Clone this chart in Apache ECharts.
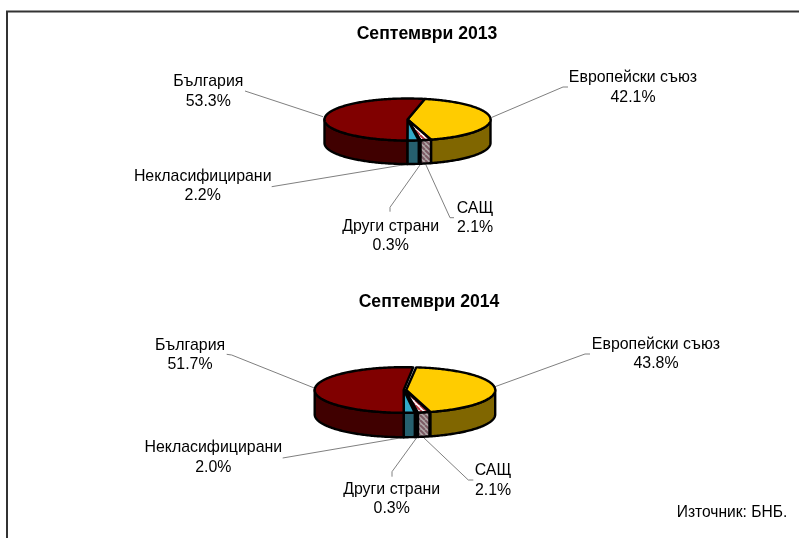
<!DOCTYPE html>
<html><head><meta charset="utf-8">
<style>html,body{margin:0;padding:0;background:#fff}#c{width:799px;height:538px}</style>
<script src="https://cdn.jsdelivr.net/npm/echarts@6/dist/echarts.min.js"></script>
</head><body><div id="c"></div>
<script>
// ---- data ----
const categories = ['Европейски съюз', 'САЩ', 'Други страни', 'Некласифицирани', 'България'];
const shares2013 = [42.1, 2.1, 0.3, 2.2, 53.3];
const shares2014 = [43.8, 2.1, 0.3, 2.0, 51.7];
const titles = ['Септември 2013', 'Септември 2014'];
const sourceNote = 'Източник: БНБ.';

// ---- layout (not data) ----
const FONT = '"Liberation Sans", Arial, sans-serif';
const layout2013 = {
  cx: 407.5, cy: 119.5, rx: 83, ry: 21, depth: 23.5, start: 12,
  offsets: [[0,0],[0,0],[0,0],[0,0],[0,0]],
  labels: [[633,76.7,96.7],[475,207.3,226.7],[390.7,225.7,244.5],[202.7,175.7,195],[208.3,81,100.7]],
  leaders: [
    [[491.5,117.5],[563,87],[568,87]],
    [[426,165],[450,217.7],[454,217.7]],
    [[420,165],[390,207.3],[390,211.7]],
    [[406.7,164.3],[271.7,186.7]],
    [[323,116.7],[245,91]]
  ]
};
const layout2014 = {
  cx: 403.7, cy: 390, rx: 89, ry: 22.8, depth: 24.4, start: 6.5,
  offsets: [[2.5,0],[1.5,0],[0,0],[0,0],[0,0]],
  labels: [[656,344,363],[493,470,490],[391.7,489,508],[213.3,447,466.7],[190,345,364]],
  leaders: [
    [[493.3,387.3],[585,354],[590,354]],
    [[423.3,437.3],[468.3,480],[473.3,480]],
    [[416.7,437.7],[392,471.7],[392,476.7]],
    [[404,437.3],[282.7,458]],
    [[315,388.3],[231.7,355],[226.7,354.3]]
  ]
};

function stripes(bg, fg) {
  const s = 5, c = document.createElement('canvas');
  c.width = s; c.height = s;
  const g = c.getContext('2d');
  g.fillStyle = bg; g.fillRect(0, 0, s, s);
  g.strokeStyle = fg; g.lineWidth = 2;
  for (let k = -s; k <= s; k += s) {
    g.beginPath(); g.moveTo(k, 0); g.lineTo(k + s, s); g.stroke();
  }
  return { image: c, repeat: 'repeat' };
}
const topFills = ['#FFCC00', stripes('#ffffff', '#b83a44'), '#ffffff', '#33A9C9', '#800000'];
const sideFills = ['#806600', stripes('#b0a8a8', '#7c5a64'), '#808080', '#26606E', '#400000'];

function pt(L, off, deg, dy) {
  const r = deg * Math.PI / 180;
  return [L.cx + off[0] + L.rx * Math.sin(r), L.cy + off[1] + dy - L.ry * Math.cos(r)];
}
function arc(L, off, a0, a1, dy) {
  const out = [], n = Math.max(2, Math.ceil(Math.abs(a1 - a0)));
  for (let i = 0; i <= n; i++) out.push(pt(L, off, a0 + (a1 - a0) * i / n, dy));
  return out;
}
function makeSeries(shares, L) {
  return {
    type: 'custom', coordinateSystem: 'none', silent: true, animation: false,
    data: shares.map((v, i) => [v, i]),
    renderItem(params, api) {
      const value = api.value(0), i = api.value(1);
      let a0 = L.start;
      for (let k = 0; k < i; k++) a0 += shares[k] * 3.6;
      const a1 = a0 + value * 3.6, off = L.offsets[i], children = [];
      // leader line and labels
      children.push({ type: 'polyline', shape: { points: L.leaders[i] },
        style: { stroke: '#808080', lineWidth: 1, fill: null } });
      const lab = L.labels[i];
      [[categories[i], lab[1]], [value.toFixed(1) + '%', lab[2]]].forEach(t => {
        children.push({ type: 'text', style: { text: t[0], x: lab[0], y: t[1] + 1, align: 'center',
          verticalAlign: 'middle', font: '15.9px ' + FONT, fill: '#000' } });
      });
      // visible outer wall (front half of the rim)
      const w0 = Math.max(a0, 90), w1 = Math.min(a1, 270);
      if (w1 > w0) {
        const pts = arc(L, off, w0, w1, 0).concat(arc(L, off, w1, w0, L.depth));
        children.push({ type: 'polygon', shape: { points: pts },
          style: { fill: sideFills[i], stroke: '#000', lineWidth: 2.4, lineJoin: 'round' } });
      }
      // top face
      const top = [[L.cx + off[0], L.cy + off[1]]].concat(arc(L, off, a0, a1, 0));
      children.push({ type: 'polygon', shape: { points: top },
        style: { fill: topFills[i], stroke: '#000', lineWidth: 2.4, lineJoin: 'round' } });
      return { type: 'group', children };
    }
  };
}

const chart = echarts.init(document.getElementById('c'), null, { renderer: 'canvas' });
chart.setOption({
  animation: false,
  backgroundColor: '#fff',
  title: [
    { text: titles[0], left: 422, top: 20, textAlign: 'center',
      textStyle: { fontFamily: FONT, fontSize: 17.6, fontWeight: 'bold', color: '#000' } },
    { text: titles[1], left: 424, top: 288, textAlign: 'center',
      textStyle: { fontFamily: FONT, fontSize: 17.6, fontWeight: 'bold', color: '#000' } },
    { text: sourceNote, left: 727, top: 500, textAlign: 'center',
      textStyle: { fontFamily: FONT, fontSize: 15.6, fontWeight: 'normal', color: '#000' } }
  ],
  graphic: [{ type: 'polyline', shape: { points: [[7, 538], [7, 11.5], [799, 11.5]] },
    style: { stroke: '#333', lineWidth: 2, fill: null }, silent: true }],
  series: [makeSeries(shares2013, layout2013), makeSeries(shares2014, layout2014)]
});
</script></body></html>
